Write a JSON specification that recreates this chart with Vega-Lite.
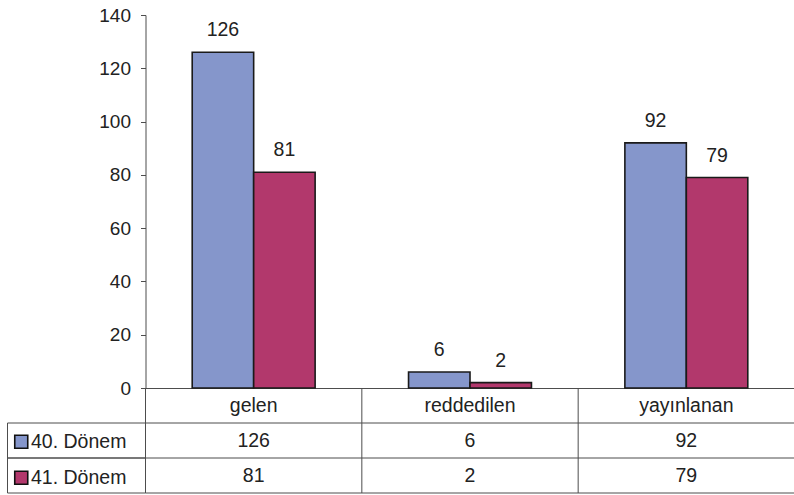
{
  "$schema": "https://vega.github.io/schema/vega-lite/v6.json",
  "padding": {"left": 6.5, "top": 6, "right": 0, "bottom": 0},
  "autosize": {"type": "pad"},
  "columns": 2,
  "spacing": 0,
  "bounds": "flush",
  "align": "each",
  "config": {
    "view": {"stroke": null},
    "font": "Liberation Sans",
    "text": {"font": "Liberation Sans", "fontSize": 19.5, "fill": "#222222"}
  },
  "datasets": {
    "bars": [
      {"cat": "gelen", "series": "40. Dönem", "value": 126},
      {"cat": "gelen", "series": "41. Dönem", "value": 81},
      {"cat": "reddedilen", "series": "40. Dönem", "value": 6},
      {"cat": "reddedilen", "series": "41. Dönem", "value": 2},
      {"cat": "yayınlanan", "series": "40. Dönem", "value": 92},
      {"cat": "yayınlanan", "series": "41. Dönem", "value": 79}
    ],
    "cats": [
      {"cat": "gelen"},
      {"cat": "reddedilen"},
      {"cat": "yayınlanan"}
    ]
  },
  "concat": [
    {
      "width": 138,
      "height": 373,
      "data": {"values": [{}]},
      "mark": {"type": "text", "text": ""},
      "encoding": {}
    },
    {
      "width": 649,
      "height": 373,
      "data": {"name": "bars"},
      "encoding": {
        "x": {
          "field": "cat",
          "type": "nominal",
          "scale": {"domain": ["gelen", "reddedilen", "yayınlanan"], "paddingInner": 0, "paddingOuter": 0},
          "axis": {"labels": false, "ticks": false, "title": null, "domainColor": "#4d4d4d", "domainWidth": 1}
        },
        "xOffset": {
          "field": "series",
          "type": "nominal",
          "scale": {"paddingInner": 0, "paddingOuter": 0.76}
        },
        "y": {
          "field": "value",
          "type": "quantitative",
          "scale": {"domain": [0, 140], "nice": false},
          "axis": {
            "values": [0, 20, 40, 60, 80, 100, 120, 140],
            "title": null,
            "grid": false,
            "domainColor": "#4d4d4d",
            "tickColor": "#4d4d4d",
            "tickSize": 5,
            "labelFontSize": 19,
            "labelFont": "Liberation Sans",
            "labelColor": "#222222",
            "labelPadding": 10
          }
        }
      },
      "layer": [
        {
          "mark": {"type": "bar", "stroke": "#1a1a1a", "strokeWidth": 1.6},
          "encoding": {
            "color": {
              "field": "series",
              "type": "nominal",
              "scale": {"domain": ["40. Dönem", "41. Dönem"], "range": ["#8596CB", "#B2386C"]},
              "legend": {
                "orient": "none",
                "legendX": 4,
                "legendY": 417,
                "title": null,
                "direction": "vertical",
                "symbolType": "square",
                "symbolSize": 169,
                "symbolStrokeColor": "#111111",
                "symbolStrokeWidth": 1.6,
                "symbolOpacity": 1,
                "labelFontSize": 19.5,
                "labelFont": "Liberation Sans",
                "labelColor": "#222222",
                "labelOffset": 0,
                "rowPadding": 15,
                "padding": 0,
                "labelLimit": 300
              }
            }
          }
        },
        {
          "mark": {"type": "text", "baseline": "alphabetic", "dy": -16, "align": "center"},
          "encoding": {"text": {"field": "value", "type": "quantitative"}}
        }
      ]
    },
    {
      "width": 138,
      "height": 105,
      "data": {"name": "bars"},
      "transform": [{"aggregate": [{"op": "count", "as": "n"}], "groupby": ["series"]}],
      "mark": {"type": "rect", "filled": false, "stroke": "#4d4d4d", "strokeWidth": 1},
      "encoding": {
        "y": {
          "field": "series",
          "type": "nominal",
          "scale": {"domain": ["header", "40. Dönem", "41. Dönem"], "paddingInner": 0, "paddingOuter": 0},
          "axis": null
        },
        "x": {"value": 0},
        "x2": {"value": "width"}
      }
    },
    {
      "width": 649,
      "height": 105,
      "layer": [
        {
          "data": {"name": "cats"},
          "mark": {"type": "rule", "color": "#4d4d4d", "strokeWidth": 1},
          "encoding": {
            "x": {
              "field": "cat",
              "type": "nominal",
              "bandPosition": 0,
              "scale": {"domain": ["gelen", "reddedilen", "yayınlanan"], "paddingInner": 0, "paddingOuter": 0},
              "axis": null
            }
          }
        },
        {
          "data": {"name": "cats"},
          "mark": {"type": "text", "align": "center", "baseline": "middle"},
          "encoding": {
            "x": {"field": "cat", "type": "nominal", "scale": {"domain": ["gelen", "reddedilen", "yayınlanan"], "paddingInner": 0, "paddingOuter": 0}, "axis": null},
            "y": {"datum": "header", "type": "nominal", "scale": {"domain": ["header", "40. Dönem", "41. Dönem"], "paddingInner": 0, "paddingOuter": 0}, "axis": null},
            "text": {"field": "cat", "type": "nominal"}
          }
        },
        {
          "data": {"name": "bars"},
          "mark": {"type": "text", "align": "center", "baseline": "middle"},
          "encoding": {
            "x": {"field": "cat", "type": "nominal", "axis": null},
            "y": {"field": "series", "type": "nominal", "axis": null},
            "text": {"field": "value", "type": "quantitative"}
          }
        },
        {
          "data": {"name": "bars"},
          "transform": [{"aggregate": [{"op": "count", "as": "n"}], "groupby": ["series"]}],
          "mark": {"type": "rule", "color": "#4d4d4d", "strokeWidth": 1},
          "encoding": {
            "y": {"field": "series", "type": "nominal", "bandPosition": 1, "axis": null}
          }
        },
        {
          "data": {"values": [{}]},
          "mark": {"type": "rule", "color": "#4d4d4d", "strokeWidth": 1},
          "encoding": {
            "y": {"datum": "header", "type": "nominal", "bandPosition": 1, "axis": null}
          }
        }
      ]
    }
  ]
}
